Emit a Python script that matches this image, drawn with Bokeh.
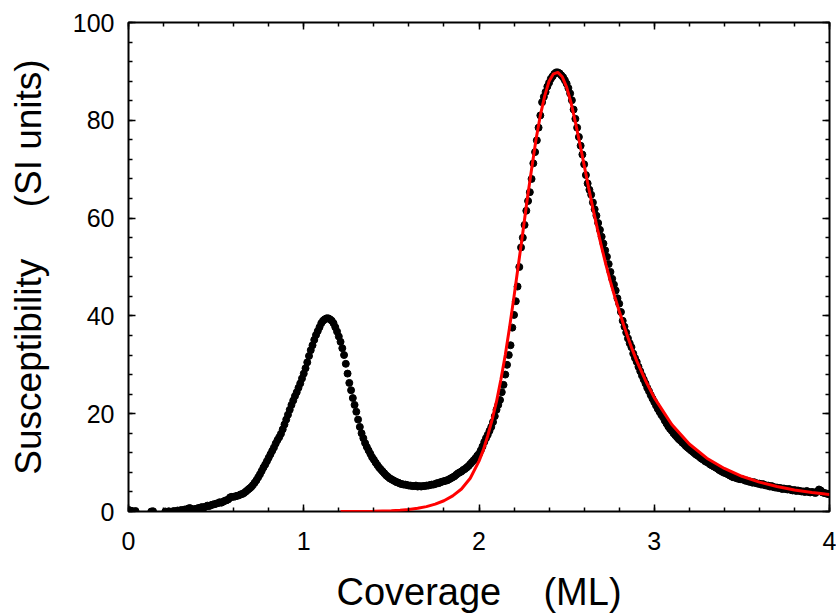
import numpy as np
from bokeh.plotting import figure
from bokeh.models import LinearAxis, SingleIntervalTicker, Range1d
from bokeh.embed import file_html
from bokeh.resources import INLINE

# ---- data ----
# sparse early points
x_sparse = [0.00, 0.01, 0.02, 0.04, 0.13, 0.14, 0.21, 0.23, 0.25, 0.26, 0.28]
y_sparse = [0.3, 0.2, 0.1, 0.1, 0.0, 0.05, 0.0, 0.05, 0.0, 0.1, 0.2]

# dense points, x from 0.30 to 4.00 in steps of 0.01
x_dense_start = 0.30
x_dense_step = 0.01
y_dense = [
    # 0.30-0.39
    0.3, 0.2, 0.4, 0.3, 0.6, 0.7, 0.5, 0.4, 0.5, 0.6,
    # 0.40
    0.7, 0.8, 0.9, 0.8, 1.0, 1.2, 1.1, 1.3, 1.4, 1.5,
    # 0.50
    1.6, 1.7, 1.9, 1.8, 2.0, 2.2, 2.3, 2.5, 2.9, 3.0,
    # 0.60
    3.0, 3.1, 3.2, 3.3, 3.5, 3.6, 3.8, 4.1, 4.4, 4.7,
    # 0.70
    5.0, 5.4, 5.9, 6.4, 7.0, 7.6, 8.3, 9.0, 9.6, 10.3,
    # 0.80
    11.0, 11.7, 12.4, 13.1, 13.9, 14.6, 15.2, 15.9, 16.8, 17.8,
    # 0.90
    18.8, 19.8, 20.8, 21.8, 22.7, 23.6, 24.4, 25.3, 26.2, 27.2,
    # 1.00
    28.2, 29.3, 30.5, 31.8, 33.0, 34.0, 35.1, 36.1, 36.9, 37.7,
    # 1.10
    38.5, 39.0, 39.3, 39.5, 39.5, 39.3, 39.0, 38.5, 37.7, 36.8,
    # 1.20
    35.8, 34.7, 33.4, 32.0, 30.2, 28.2, 26.3, 24.8, 23.2, 21.8,
    # 1.30
    20.4, 18.8, 17.3, 16.0, 15.0, 14.0, 13.2, 12.5, 11.8, 11.1,
    # 1.40
    10.6, 10.0, 9.5, 9.0, 8.6, 8.2, 7.8, 7.4, 7.1, 6.8,
    # 1.50
    6.6, 6.4, 6.2, 6.0, 5.9, 5.7, 5.6, 5.5, 5.5, 5.4,
    # 1.60
    5.3, 5.3, 5.2, 5.2, 5.3, 5.1, 5.2, 5.1, 5.2, 5.2,
    # 1.70
    5.3, 5.3, 5.4, 5.5, 5.5, 5.6, 5.8, 5.8, 6.0, 6.1,
    # 1.80
    6.2, 6.3, 6.4, 6.6, 6.8, 7.0, 7.2, 7.5, 7.8, 8.0,
    # 1.90
    8.2, 8.5, 8.7, 9.0, 9.3, 9.7, 10.1, 10.5, 10.9, 11.4,
    # 2.00
    11.8, 12.5, 13.3, 14.2, 15.0, 15.7, 16.5, 17.3, 18.3, 19.5,
    # 2.10
    20.8, 21.8, 22.8, 24.4, 25.9, 28.0, 30.0, 32.0, 34.0, 37.6,
    # 2.20
    40.2, 43.0, 46.0, 50.0, 54.0, 56.0, 58.6, 61.5, 63.5, 65.3,
    # 2.30
    68.0, 71.2, 73.5, 75.9, 78.5, 81.0, 83.7, 84.8, 85.8, 86.9,
    # 2.40
    87.7, 88.5, 89.0, 89.5, 89.8, 89.8, 89.6, 89.2, 88.8, 88.2,
    # 2.50
    87.5, 86.6, 85.5, 84.1, 82.2, 80.3, 78.5, 76.6, 74.8, 73.0,
    # 2.60
    71.0, 68.8, 67.1, 65.8, 64.8, 63.2, 61.8, 60.5, 59.0, 57.6,
    # 2.70
    56.2, 54.8, 53.4, 52.1, 50.6, 49.0, 47.6, 46.4, 45.2, 43.6,
    # 2.80
    42.5, 40.8, 39.0, 37.8, 36.6, 35.4, 34.4, 33.6, 32.3, 31.4,
    # 2.90
    30.6, 29.6, 28.7, 27.8, 27.0, 26.2, 25.3, 24.6, 23.8, 23.1,
    # 3.00
    22.4, 21.7, 21.0, 20.4, 19.8, 19.3, 18.6, 18.0, 17.4, 16.9,
    # 3.10
    16.5, 16.0, 15.6, 15.2, 14.8, 14.5, 14.1, 13.8, 13.4, 13.1,
    # 3.20
    12.8, 12.5, 12.2, 11.9, 11.6, 11.4, 11.1, 10.8, 10.6, 10.3,
    # 3.30
    10.1, 9.9, 9.6, 9.4, 9.2, 9.0, 8.8, 8.5, 8.3, 8.1,
    # 3.40
    7.9, 7.8, 7.6, 7.4, 7.2, 7.0, 7.0, 6.8, 6.7, 6.6,
    # 3.50
    6.6, 6.5, 6.3, 6.3, 6.1, 6.1, 5.9, 6.0, 5.8, 5.7,
    # 3.60
    5.7, 5.5, 5.6, 5.4, 5.3, 5.3, 5.1, 5.2, 5.0, 4.9,
    # 3.70
    4.9, 4.8, 4.8, 4.6, 4.7, 4.6, 4.5, 4.6, 4.4, 4.3,
    # 3.80
    4.4, 4.2, 4.3, 4.2, 4.1, 4.1, 4.0, 4.2, 4.0, 3.9,
    # 3.90
    4.0, 3.9, 3.8, 4.1, 4.5, 4.3, 3.9, 3.8, 3.7, 3.6,
    # 4.00
    3.5,
]
x_dense = [round(x_dense_start + i * x_dense_step, 2) for i in range(len(y_dense))]

x_data = x_sparse + x_dense
y_data = y_sparse + y_dense

# fitted curve (red)
fit_x = [1.21, 1.30, 1.40, 1.50, 1.55, 1.60, 1.65, 1.70, 1.75, 1.80, 1.85, 1.90, 1.95,
         2.000, 2.025, 2.050, 2.075, 2.100, 2.125, 2.150, 2.175, 2.200, 2.225, 2.250,
         2.275, 2.300, 2.325, 2.350, 2.375, 2.400, 2.425, 2.450, 2.475, 2.500, 2.525,
         2.550, 2.575, 2.600, 2.625, 2.650, 2.675, 2.700, 2.725, 2.750, 2.775, 2.800,
         2.825, 2.850, 2.875, 2.900, 2.95, 3.00, 3.10, 3.20, 3.30, 3.40, 3.50, 3.60,
         3.70, 3.80, 3.90, 4.00]
fit_y = [0.0, 0.0, 0.05, 0.15, 0.25, 0.4, 0.65, 1.0, 1.5, 2.2, 3.2, 4.6, 6.8,
         10.3, 12.6, 15.5, 18.8, 22.5, 27.0, 32.0, 37.8, 44.0, 50.5, 57.0,
         63.8, 70.0, 76.0, 81.0, 85.0, 88.0, 89.5, 89.8, 88.9, 86.8, 83.6,
         79.6, 75.3, 70.8, 66.3, 62.0, 57.9, 54.0, 50.4, 47.0, 43.9, 41.0,
         38.2, 35.6, 33.1, 30.8, 26.8, 23.3, 17.8, 13.8, 10.9, 8.8, 7.2, 6.0,
         5.1, 4.4, 3.9, 3.5]

NB = "\u00a0"
x_label = "Coverage" + NB * 4 + "(ML)"
y_label = "Susceptibility" + NB * 5 + "(SI units)"

FONT = "Liberation Sans"

p = figure(width=836, height=615, output_backend="svg", toolbar_location=None,
           x_range=Range1d(0, 4), y_range=Range1d(0, 100),
           min_border_left=128, min_border_right=7, min_border_top=22, min_border_bottom=104,
           x_axis_location=None, y_axis_location=None)
p.xgrid.visible = False
p.ygrid.visible = False
p.outline_line_color = "black"
p.outline_line_width = 2
p.background_fill_color = "white"
p.border_fill_color = "white"

def style_axis(ax, labels=True):
    ax.axis_line_color = None
    ax.major_tick_in = 7
    ax.major_tick_out = 0
    ax.minor_tick_in = 4
    ax.minor_tick_out = 0
    ax.major_tick_line_color = "black"
    ax.minor_tick_line_color = "black"
    ax.major_tick_line_width = 1.5
    ax.minor_tick_line_width = 1.5
    ax.major_label_text_font = FONT
    ax.major_label_text_font_size = "25px"
    ax.major_label_text_color = "black"
    ax.axis_label_text_font = FONT
    ax.axis_label_text_font_size = "36px"
    ax.axis_label_text_font_style = "normal"
    ax.axis_label_text_color = "black"
    if not labels:
        ax.major_label_text_font_size = "0px"
        ax.major_label_text_color = None

xt = lambda: SingleIntervalTicker(interval=1, num_minor_ticks=5)
yt = lambda: SingleIntervalTicker(interval=20, num_minor_ticks=5)

xb = LinearAxis(ticker=xt(), axis_label=x_label)
style_axis(xb)
xb.axis_label_text_font_size = "38px"
xb.major_label_standoff = 20
xb.axis_label_standoff = 18
p.add_layout(xb, "below")

yl = LinearAxis(ticker=yt(), axis_label=y_label)
style_axis(yl)
yl.axis_label_text_font_size = "37px"
yl.major_label_standoff = 14
yl.axis_label_standoff = 21
p.add_layout(yl, "left")

xa = LinearAxis(ticker=xt())
style_axis(xa, labels=False)
p.add_layout(xa, "above")

yr = LinearAxis(ticker=yt())
style_axis(yr, labels=False)
p.add_layout(yr, "right")

p.scatter(x_data, y_data, size=7, color="black", line_color="black")
p.line(fit_x, fit_y, line_color="red", line_width=3)

open("out.html", "w").write(file_html(p, INLINE))
